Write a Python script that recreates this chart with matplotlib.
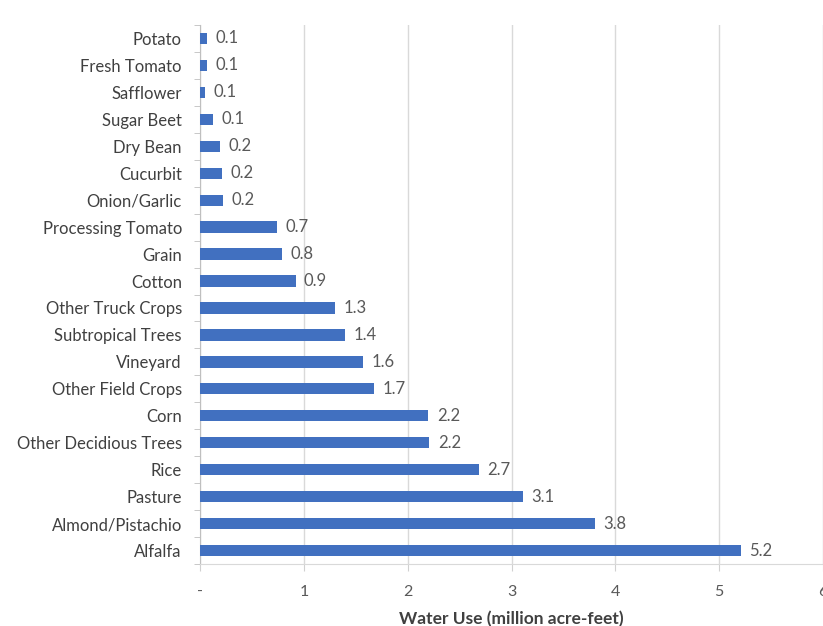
import matplotlib
matplotlib.use("Agg")
import matplotlib.pyplot as plt
import numpy as np

# crops listed bottom to top, as drawn
CROPS = ["Alfalfa", "Almond/Pistachio", "Pasture", "Rice", "Other Decidious Trees",
         "Corn", "Other Field Crops", "Vineyard", "Subtropical Trees", "Other Truck Crops",
         "Cotton", "Grain", "Processing Tomato", "Onion/Garlic", "Cucurbit", "Dry Bean",
         "Sugar Beet", "Safflower", "Fresh Tomato", "Potato"]
WATER = [5.21, 3.80, 3.11, 2.69, 2.21, 2.20, 1.68, 1.57, 1.40, 1.30,
         0.92, 0.79, 0.74, 0.22, 0.21, 0.19, 0.13, 0.05, 0.07, 0.07]
LABELS = ["5.2", "3.8", "3.1", "2.7", "2.2", "2.2", "1.7", "1.6", "1.4", "1.3",
          "0.9", "0.8", "0.7", "0.2", "0.2", "0.2", "0.1", "0.1", "0.1", "0.1"]
XTICKS = [0, 1, 2, 3, 4, 5, 6]
XTICKLABELS = ["-", "1", "2", "3", "4", "5", "6"]

plt.rcParams["font.family"] = ["Lato", "DejaVu Sans"]

fig = plt.figure(figsize=(8.23, 6.26), dpi=100)
ax = fig.add_axes([200 / 823, 1 - 564 / 626, 623 / 823, (564 - 25) / 626])

y = np.arange(len(CROPS))
ax.barh(y, WATER, height=0.42, color="#4170c0", zorder=3)
for yi, v, lab in zip(y, WATER, LABELS):
    ax.annotate(lab, (v, yi), xytext=(6, 0), textcoords="offset points",
                va="center", ha="left", fontsize=12, color="#595959")

ax.set_xlim(0, 6)
ax.set_ylim(-0.5, len(CROPS) - 0.5)
ax.set_xticks(XTICKS)
ax.set_xticklabels(XTICKLABELS, fontsize=11.5, color="#595959")
ax.set_yticks(y)
ax.set_yticklabels(CROPS, fontsize=12, color="#404040")
ax.set_yticks(np.arange(-0.5, len(CROPS), 1), minor=True)
ax.tick_params(axis="y", which="major", length=0, pad=13)
ax.tick_params(axis="y", which="minor", length=4, color="#bfbfbf")
ax.tick_params(axis="x", length=5, color="#d0d0d0", pad=10)

ax.grid(axis="x", color="#d9d9d9", lw=1.0, zorder=0)
for side in ["top", "right"]:
    ax.spines[side].set_visible(False)
ax.spines["left"].set_color("#bfbfbf")
ax.spines["bottom"].set_color("#d9d9d9")

ax.set_xlabel("Water Use (million acre-feet)", fontsize=12.5, fontweight="bold",
              color="#404040", labelpad=9)

fig.savefig("out.png", dpi=100)
